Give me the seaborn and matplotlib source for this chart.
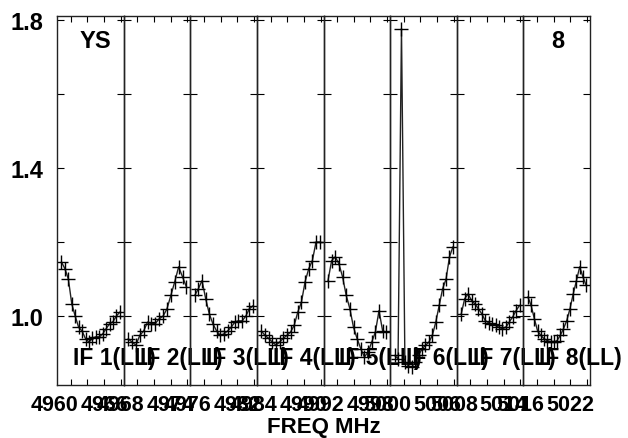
import numpy as np
import pandas as pd
import matplotlib
matplotlib.use("Agg")
import matplotlib.pyplot as plt
import seaborn as sns

# ---- data ----
if_start_mhz = [4960, 4968, 4976, 4984, 4992, 5000, 5008, 5016]
if_labels = ["IF 1(LL)", "IF 2(LL)", "IF 3(LL)", "IF 4(LL)",
             "IF 5(LL)", "IF 6(LL)", "IF 7(LL)", "IF 8(LL)"]
if1 = [1.146, 1.128, 1.10, 1.033, 1.0, 0.97, 0.96, 0.939, 0.93, 0.94, 0.944,
       0.944, 0.952, 0.966, 0.979, 0.985, 1.0, 1.011]
if2 = [0.939, 0.93, 0.922, 0.948, 0.96, 0.984, 0.98, 0.98, 0.993, 1.0, 1.02,
       1.056, 1.093, 1.133, 1.106, 1.079]
if3 = [1.056, 1.074, 1.096, 1.047, 1.006, 0.979, 0.96, 0.948, 0.952, 0.96,
       0.97, 0.984, 0.987, 0.987, 1.0, 1.02, 1.028]
if4 = [0.96, 0.948, 0.94, 0.93, 0.922, 0.93, 0.94, 0.948, 0.957, 0.975, 1.011,
       1.038, 1.093, 1.128, 1.15, 1.20, 1.20]
if5 = [1.096, 1.15, 1.16, 1.141, 1.106, 1.056, 1.02, 0.97, 0.939, 0.912, 0.89,
       0.903, 0.93, 0.957, 1.015, 0.96, 0.957]
if6 = [0.894, 0.885, 1.776, 0.876, 0.866, 0.863, 0.876, 0.894, 0.912, 0.921,
       0.93, 0.948, 0.984, 1.029, 1.074, 1.10, 1.16, 1.187]
if7 = [1.006, 1.047, 1.06, 1.042, 1.033, 1.02, 1.006, 0.988, 0.982, 0.979,
       0.975, 0.97, 0.966, 0.97, 0.984, 0.998, 1.015, 1.029]
if8 = [1.052, 1.029, 0.993, 0.96, 0.948, 0.939, 0.934, 0.931, 0.93, 0.934,
       0.948, 0.966, 0.988, 1.02, 1.06, 1.096, 1.133, 1.106, 1.083]
if_values = [if1, if2, if3, if4, if5, if6, if7, if8]
y_ticks = [1.0, 1.2, 1.4, 1.6, 1.8]
y_tick_labels = ["1.0", "", "1.4", "", "1.8"]
source_name = "YS"
corner_label = "8"
x_title = "FREQ MHz"

# ---- style ----
sns.set_style("white")
plt.rcParams["font.family"] = ["Liberation Sans", "DejaVu Sans"]
plt.rcParams["font.weight"] = "bold"
plt.rcParams["text.color"] = "black"
plt.rcParams["xtick.color"] = "black"
plt.rcParams["ytick.color"] = "black"
plt.rcParams["axes.labelcolor"] = "black"

fig, axes = plt.subplots(1, 8, figsize=(6.28, 4.39), dpi=100, sharey=True)
fig.subplots_adjust(left=57 / 628, right=590 / 628, top=1 - 17 / 439,
                    bottom=1 - 385.7 / 439, wspace=0)

for i, ax in enumerate(axes):
    ax.set_facecolor("none")
    f0 = if_start_mhz[i]
    vals = if_values[i]
    freqs = np.linspace(f0 + 0.9, f0 + 7.9, len(vals))
    df = pd.DataFrame({"freq": freqs, "amp": vals})
    sns.lineplot(data=df, x="freq", y="amp", ax=ax, color="#222222",
                 linewidth=1.0, marker="+", markersize=10,
                 markeredgecolor="black", markeredgewidth=1.0, sort=False)
    ax.set_xlim(f0 + 0.36, f0 + 8.36)
    ax.set_ylim(0.815, 1.81)
    ax.set_xticks([f0 + 2, f0 + 4, f0 + 6, f0 + 8])
    ax.set_xticklabels([])
    ax.set_yticks(y_ticks)
    ax.set_xlabel("")
    ax.set_ylabel("")
    ax.tick_params(axis="x", direction="in", top=True, bottom=True,
                   length=4, width=0.8, color="black")
    ax.tick_params(axis="y", direction="in", left=True, right=True,
                   length=5, width=0.8, color="black", pad=10,
                   labelsize=17, labelcolor="black")
    for sp in ax.spines.values():
        sp.set_color("#222222")
        sp.set_linewidth(1.0)
    # frequency labels under each panel
    for f in (f0, f0 + 6):
        ax.text(f, -0.054, f"{f}", transform=ax.get_xaxis_transform(),
                ha="center", va="center", fontsize=15.5, fontweight="bold",
                color="black", clip_on=False)
    ax.text(f0 + 2.28, 0.056, if_labels[i], transform=ax.get_xaxis_transform(),
            ha="left", va="baseline", fontsize=16.5, fontweight="bold",
            color="black", clip_on=False, zorder=5)

axes[0].set_yticklabels(y_tick_labels, fontweight="bold", color="black")
for ax in axes[1:]:
    ax.tick_params(axis="y", labelleft=False)

axes[0].text(0.345, 0.965, source_name, transform=axes[0].transAxes,
             ha="left", va="top", fontsize=17, fontweight="bold", color="black")
axes[7].text(0.51, 0.965, corner_label, transform=axes[7].transAxes,
             ha="center", va="top", fontsize=17, fontweight="bold", color="black")
fig.text((57 + 590) / 2 / 628, 1 - 428 / 439, x_title, ha="center",
         va="center", fontsize=16, fontweight="bold", color="black")

fig.savefig("out.png", dpi=100, facecolor="white")
